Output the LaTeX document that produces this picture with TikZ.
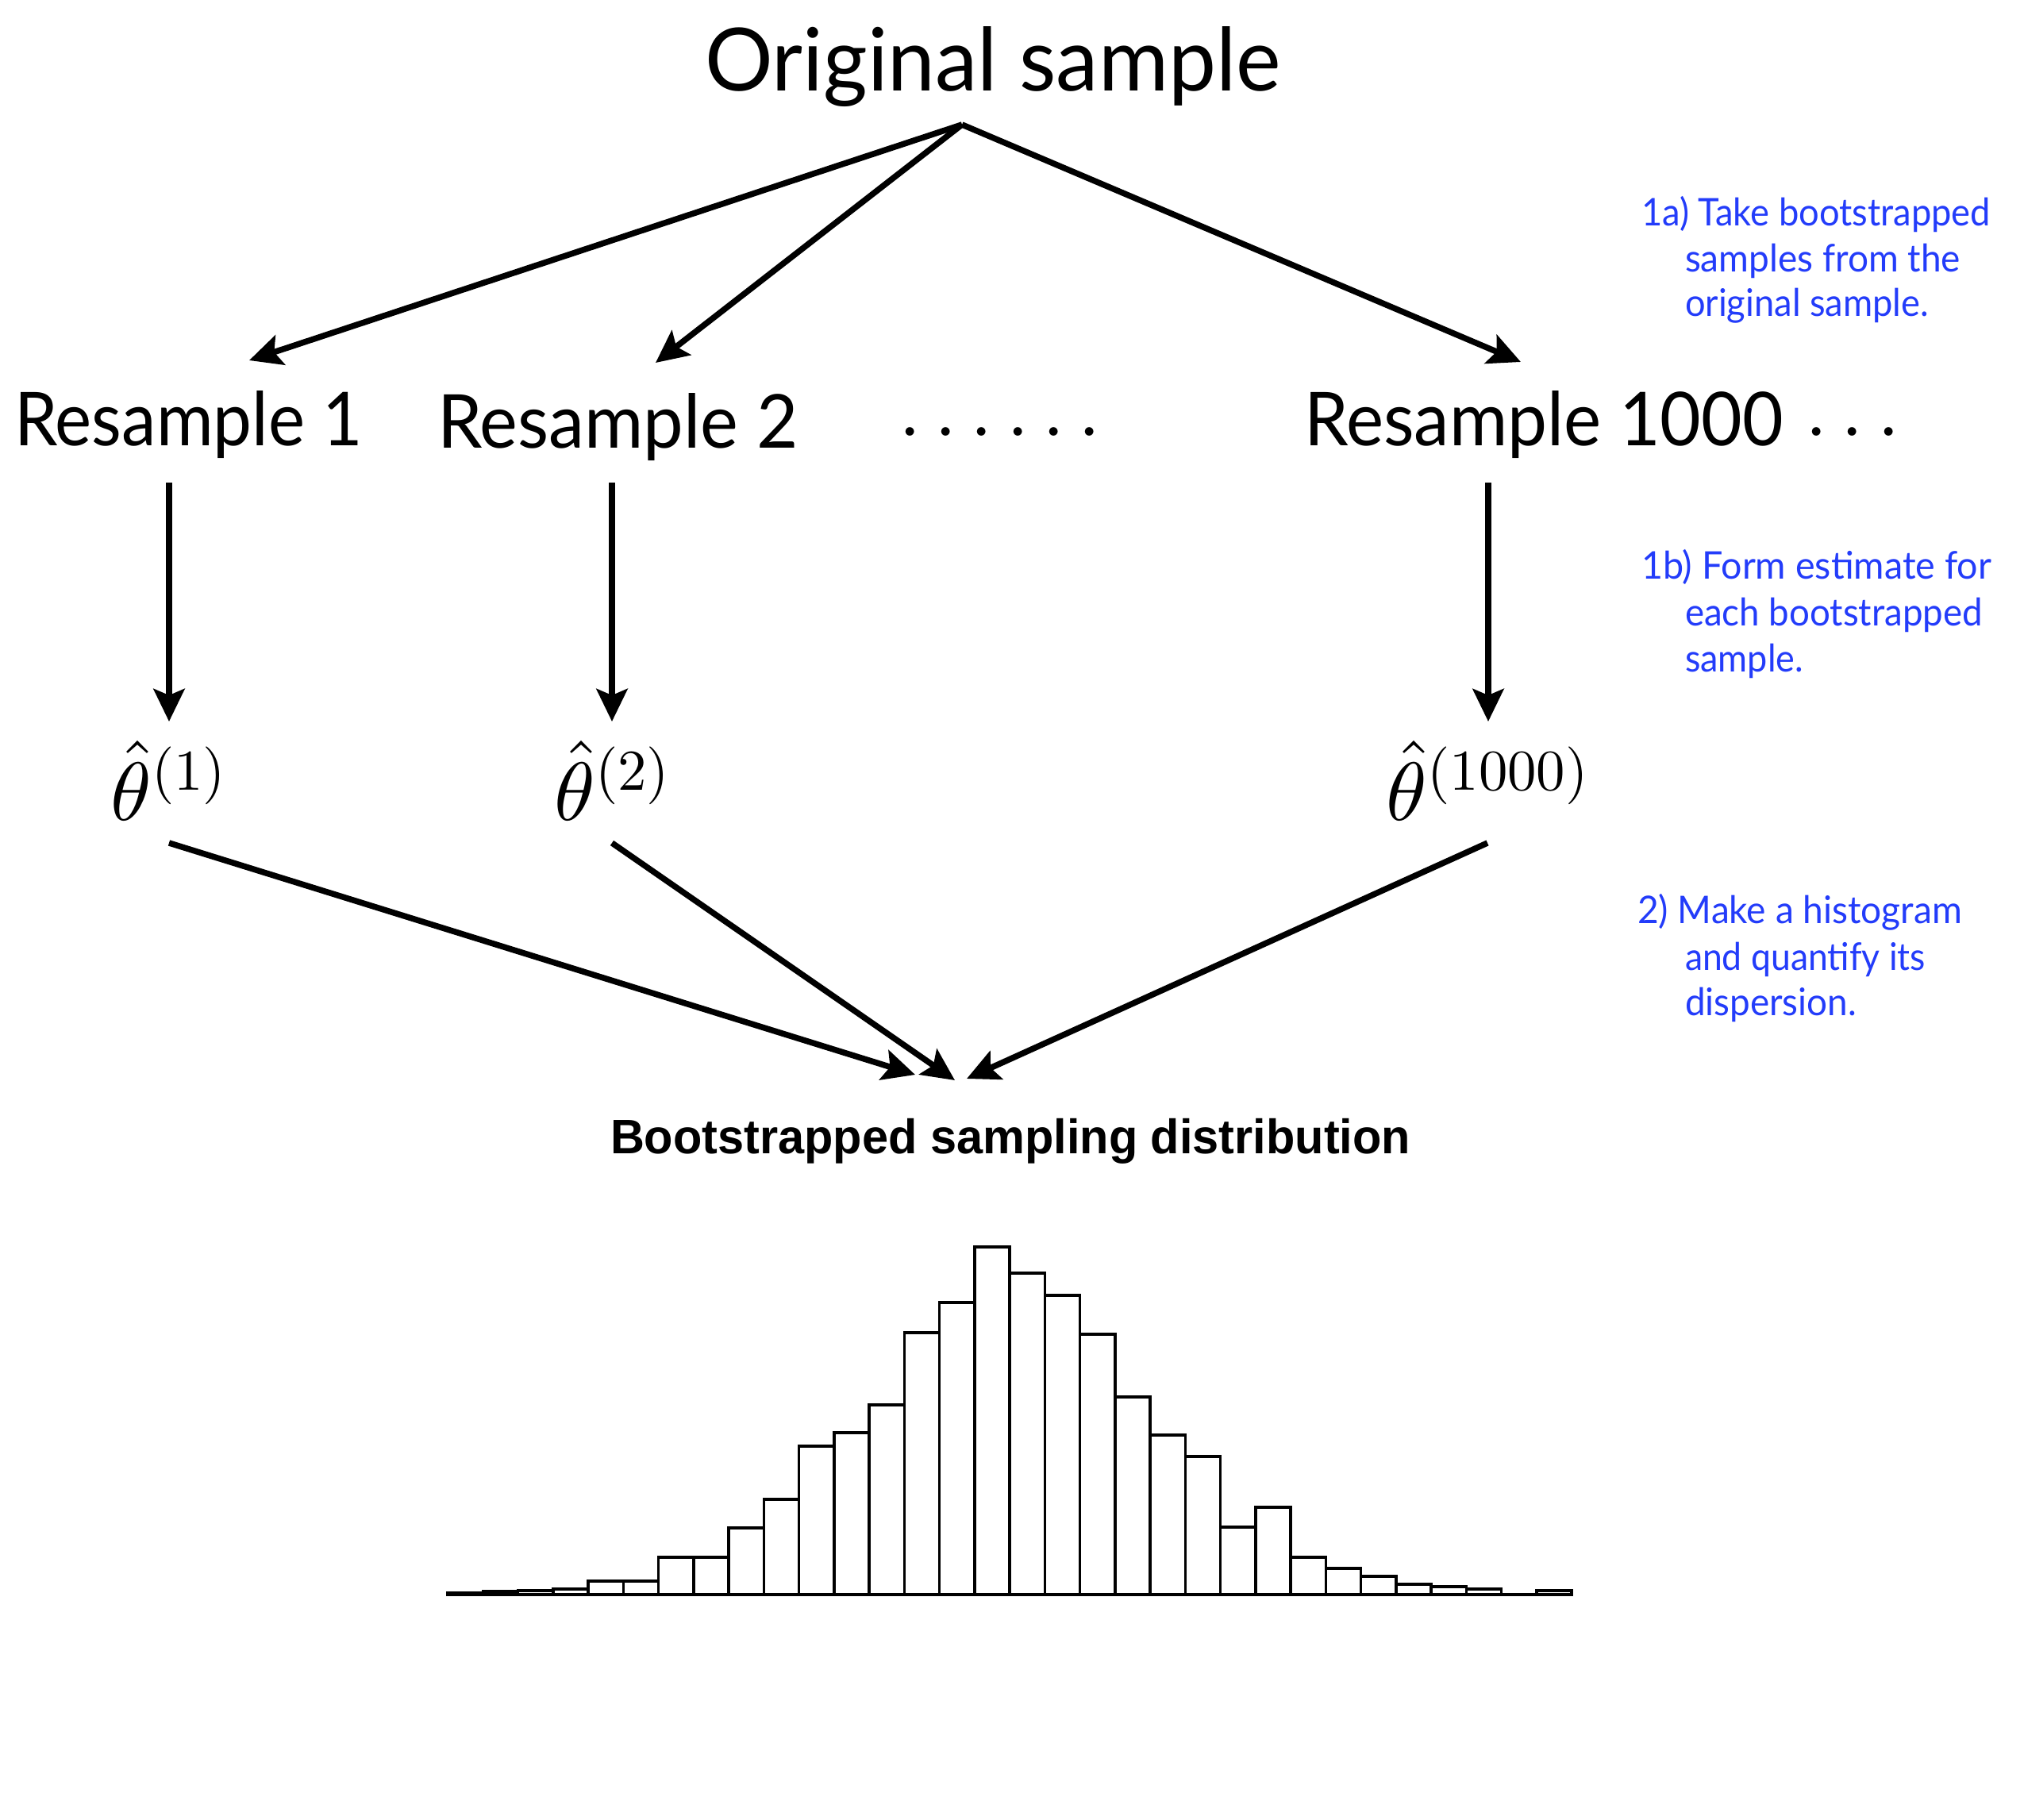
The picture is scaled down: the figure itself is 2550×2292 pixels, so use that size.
\documentclass[tikz,border=0pt]{standalone}
\usepackage[no-math]{fontspec}
\usepackage{graphicx}
\DeclareFontShape{OML}{cmm}{m}{it}{<->cmmi10}{}
\DeclareFontShape{OT1}{cmr}{m}{n}{<->cmr10}{}
\DeclareFontShape{OMS}{cmsy}{m}{n}{<->cmsy10}{}
\newfontfamily\gill{Lato}
\newfontfamily\helv{Liberation Sans}
\usetikzlibrary{arrows.meta}
\definecolor{noteblue}{RGB}{35,60,250}
\newcommand\fitw[2]{\resizebox{#1}{\height}{#2}}
\newcommand\fitwh[3]{\resizebox{#1}{#2}{#3}}
\begin{document}
\begin{tikzpicture}[x=1pt,y=-1pt,
  txt/.style={inner sep=0pt, outer sep=0pt},
  big/.style={txt, anchor=base west, font=\gill\fontsize{112pt}{130pt}\selectfont},
  res/.style={txt, anchor=base west, font=\gill\fontsize{96pt}{110pt}\selectfont},
  note/.style={txt, anchor=base west, text=noteblue, font=\gill\fontsize{48pt}{58pt}\selectfont},
  est/.style={txt, anchor=base, font=\fontsize{104pt}{124pt}\selectfont},
  dotsty/.style={txt, anchor=base, font=\fontsize{102pt}{120pt}\selectfont},
  ttl/.style={txt, anchor=base west, font=\helv\bfseries\fontsize{61pt}{70pt}\selectfont},
  arr/.style={line width=7.5pt, -{Stealth[length=41pt,width=39pt,inset=8pt]}},
  bar/.style={line width=3.5pt, fill=white, line join=miter},
  axisline/.style={line width=4pt}
]
\fill[white] (0,0) rectangle (2550,2292);
\useasboundingbox (0,0) rectangle (2550,2292);

% texts
\node[big] (orig) at (888,114) {\fitwh{726pt}{81pt}{Original sample}};
\node[res] (rs1) at (18,561) {\fitwh{439pt}{69pt}{Resample 1}};
\node[res] (rs2) at (551,564) {\fitwh{455pt}{69pt}{Resample 2}};
\node[dotsty] (mdots) at (1260,569) {$\cdots\cdots$};
\node[res] (rs1000) at (1643,561) {\fitwh{604pt}{69pt}{Resample 1000}};
\node[dotsty] (rdots) at (2334,569) {$\cdots$};

\node[est] (th1) at (212,1033) {$\hat{\theta}^{(1)}$};
\node[est] (th2) at (771,1033) {$\hat{\theta}^{(2)}$};
\node[est] (th1000) at (1874,1033) {$\hat{\theta}^{(1000)}$};

\node[ttl] (title) at (769,1453) {\fitw{1008pt}{Bootstrapped sampling distribution}};

% notes
\node[note] (na1) at (2068,284) {\fitw{440pt}{1a) Take bootstrapped}};
\node[note] (na2) at (2123,342) {\fitw{347pt}{samples from the}};
\node[note] (na3) at (2123,398) {\fitw{307pt}{original sample.}};
\node[note] (nb1) at (2068,729) {\fitw{441pt}{1b) Form estimate for}};
\node[note] (nb2) at (2123,788) {\fitw{375pt}{each bootstrapped}};
\node[note] (nb3) at (2123,846) {\fitw{149pt}{sample.}};
\node[note] (nc1) at (2063,1163) {\fitw{409pt}{2) Make a histogram}};
\node[note] (nc2) at (2123,1222) {\fitw{303pt}{and quantify its}};
\node[note] (nc3) at (2123,1279) {\fitw{216pt}{dispersion.}};

% connector end points
\coordinate (apex) at (1212,157);
\coordinate (in1) at (314,454);
\coordinate (in2) at (826,457);
\coordinate (in1000) at (1916,456);
\coordinate (out1) at (213,608);
\coordinate (out2) at (771,608);
\coordinate (out1000) at (1875,608);
\coordinate (tip1) at (213,909);
\coordinate (tip2) at (771,909);
\coordinate (tip1000) at (1875,909);
\coordinate (e1) at (213,1062);
\coordinate (e2) at (771,1062);
\coordinate (e1000) at (1874,1062);
\coordinate (h1) at (1153,1354);
\coordinate (h2) at (1203,1361);
\coordinate (h3) at (1218,1359);

\draw[arr] (apex) -- (in1);
\draw[arr] (apex) -- (in2);
\draw[arr] (apex) -- (in1000);
\draw[arr] (out1) -- (tip1);
\draw[arr] (out2) -- (tip2);
\draw[arr] (out1000) -- (tip1000);
\draw[arr] (e1) -- (h1);
\draw[arr] (e2) -- (h2);
\draw[arr] (e1000) -- (h3);

% histogram
\foreach \h [count=\i from 0] in {2,4,5,7,17,17,47,47,84,120,187,204,239,330,368,438,405,377,328,249,201,174,85,110,47,33,23,13,10,7,0,5}
  {\draw[bar] ({564+44.25*\i},2009) rectangle ++(44.25,-\h);}
\draw[axisline] (564,2009) -- (1980,2009);
\end{tikzpicture}
\end{document}
